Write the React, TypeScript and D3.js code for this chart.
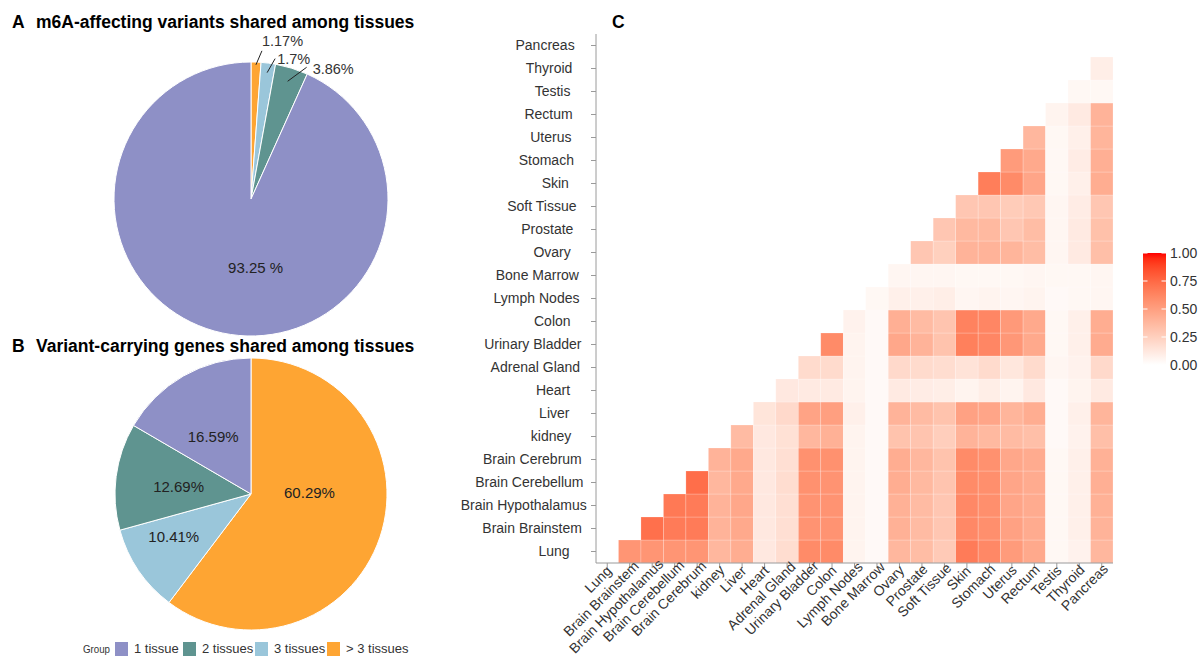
import React, { useMemo } from 'react';
import * as d3 from 'd3';

// ---------- data ----------
const groupNames = ['1 tissue', '2 tissues', '3 tissues', '> 3 tissues'];
const groupColors = ['#8E90C6', '#5F9490', '#9AC6DA', '#FEA533'];

const pieAGroups = ['> 3 tissues', '3 tissues', '2 tissues', '1 tissue'];
const pieAValues = [1.17, 1.7, 3.86, 93.25];
const pieALabels = ['1.17%', '1.7%', '3.86%', '93.25 %'];

const pieBGroups = ['> 3 tissues', '3 tissues', '2 tissues', '1 tissue'];
const pieBValues = [60.29, 10.41, 12.69, 16.59];
const pieBLabels = ['60.29%', '10.41%', '12.69%', '16.59%'];

const tissues = [
  'Lung', 'Brain Brainstem', 'Brain Hypothalamus', 'Brain Cerebellum', 'Brain Cerebrum',
  'kidney', 'Liver', 'Heart', 'Adrenal Gland', 'Urinary Bladder', 'Colon', 'Lymph Nodes',
  'Bone Marrow', 'Ovary', 'Prostate', 'Soft Tissue', 'Skin', 'Stomach', 'Uterus', 'Rectum',
  'Testis', 'Thyroid', 'Pancreas',
];

// similarity[i] holds values for columns j = i+1 .. 22
const similarity = [
  [0.55, 0.55, 0.55, 0.55, 0.38, 0.43, 0.12, 0.18, 0.60, 0.60, 0.06, 0.03, 0.38, 0.35, 0.28, 0.67, 0.61, 0.52, 0.45, 0.04, 0.07, 0.38],
  [0.72, 0.67, 0.67, 0.40, 0.45, 0.12, 0.17, 0.56, 0.56, 0.06, 0.03, 0.41, 0.36, 0.30, 0.61, 0.58, 0.49, 0.44, 0.04, 0.08, 0.40],
  [0.68, 0.67, 0.40, 0.46, 0.12, 0.17, 0.56, 0.56, 0.06, 0.03, 0.41, 0.36, 0.30, 0.61, 0.58, 0.47, 0.44, 0.04, 0.08, 0.41],
  [0.73, 0.38, 0.45, 0.12, 0.18, 0.57, 0.56, 0.06, 0.03, 0.43, 0.37, 0.31, 0.60, 0.58, 0.47, 0.44, 0.04, 0.08, 0.42],
  [0.40, 0.45, 0.12, 0.17, 0.57, 0.57, 0.06, 0.03, 0.43, 0.38, 0.32, 0.60, 0.57, 0.46, 0.44, 0.04, 0.08, 0.41],
  [0.36, 0.12, 0.16, 0.38, 0.41, 0.06, 0.03, 0.32, 0.31, 0.26, 0.40, 0.37, 0.36, 0.34, 0.03, 0.07, 0.34],
  [0.14, 0.20, 0.48, 0.50, 0.08, 0.03, 0.40, 0.36, 0.32, 0.49, 0.47, 0.39, 0.43, 0.03, 0.08, 0.39],
  [0.12, 0.11, 0.11, 0.06, 0.03, 0.11, 0.10, 0.09, 0.06, 0.09, 0.06, 0.12, 0.03, 0.06, 0.11],
  [0.19, 0.19, 0.06, 0.03, 0.20, 0.19, 0.18, 0.15, 0.19, 0.13, 0.19, 0.05, 0.07, 0.20],
  [0.60, 0.06, 0.03, 0.46, 0.40, 0.32, 0.65, 0.62, 0.54, 0.45, 0.04, 0.08, 0.44],
  [0.07, 0.03, 0.42, 0.36, 0.31, 0.64, 0.62, 0.53, 0.45, 0.04, 0.08, 0.43],
  [0.04, 0.08, 0.08, 0.09, 0.05, 0.06, 0.05, 0.06, 0.03, 0.04, 0.05],
  [0.05, 0.05, 0.05, 0.04, 0.04, 0.04, 0.05, 0.04, 0.04, 0.05],
  [0.30, 0.25, 0.40, 0.40, 0.39, 0.35, 0.05, 0.11, 0.34],
  [0.30, 0.37, 0.37, 0.30, 0.35, 0.05, 0.11, 0.33],
  [0.30, 0.30, 0.27, 0.29, 0.05, 0.10, 0.30],
  [0.66, 0.60, 0.47, 0.04, 0.08, 0.43],
  [0.52, 0.45, 0.04, 0.10, 0.42],
  [0.38, 0.04, 0.08, 0.39],
  [0.06, 0.11, 0.40],
  [0.04, 0.04],
  [0.09],
  [],
];

const legendBreaks = [0, 0.25, 0.5, 0.75, 1];
const legendBreakLabels = ['0.00', '0.25', '0.50', '0.75', '1.00'];

// ---------- layout / style ----------
const FONT = "'Liberation Sans', Arial, Helvetica, sans-serif";
const TXT = '#333333';
const AXIS = '#9a9a9a';

// pie label nudges (style only)
const pieANudges = [
  { r: 0.98, lx: 6, ly: -14, tx: 0, ty: -5 },
  { r: 0.93, lx: 8, ly: -14, tx: 2, ty: 5 },
  { r: 0.9, lx: 19, ly: -14, tx: 6, ty: 7 },
  { r: 0.5, lx: 19, ly: 2, tx: 0, ty: 0 },
];
const pieBNudges = [
  { dx: -6, dy: -23 },
  { dx: -21, dy: 5 },
  { dx: -5, dy: 2 },
  { dx: -4, dy: 2 },
];

function colorOf(g: string) {
  return groupColors[groupNames.indexOf(g)];
}

function measure(text: string, font: string) {
  if (typeof document === 'undefined') return text.length * 7;
  const c = document.createElement('canvas').getContext('2d');
  if (!c) return text.length * 7;
  c.font = font;
  return c.measureText(text).width;
}

export default function App() {
  const W = 1204, H = 657;

  // ----- pies -----
  const pieGen = d3.pie<number>().sort(null).value((d) => d);
  const aCx = 251, aCy = 199, aR = 137;
  const bCx = 251, bCy = 494, bR = 136;
  const arcsA = pieGen(pieAValues);
  const arcsB = pieGen(pieBValues);
  const arcA = d3.arc<d3.PieArcDatum<number>>().innerRadius(0).outerRadius(aR);
  const arcB = d3.arc<d3.PieArcDatum<number>>().innerRadius(0).outerRadius(bR);
  const polar = (r: number, a: number) => [r * Math.sin(a), -r * Math.cos(a)];

  // ----- heatmap -----
  const x = d3.scaleBand<string>().domain(tissues).range([596, 1113]).padding(0);
  const y = d3.scaleBand<string>().domain(tissues).range([563, 34]).padding(0);
  const color = d3.scaleLinear<string>().domain([0, 1]).range(['#ffffff', '#ff0000']).interpolate(d3.interpolateLab);

  const cells: { i: number; j: number; v: number }[] = [];
  similarity.forEach((row, i) => row.forEach((v, k) => cells.push({ i, j: i + 1 + k, v })));

  const labelFont = `14px ${FONT}`;
  const widths = useMemo(() => tissues.map((t) => measure(t, labelFont)), []);

  // colorbar
  const cb = d3.scaleLinear().domain([0, 1]).range([365, 253]);
  const cbX = 1143, cbW = 23;
  const stops = d3.range(0, 1.0001, 0.05);

  return (
    <svg width={W} height={H} style={{ position: 'absolute', left: 0, top: 0, background: '#fff' }} fontFamily={FONT}>
      <defs>
        <linearGradient id="cbgrad" x1="0" y1="1" x2="0" y2="0">
          {stops.map((s) => (
            <stop key={s} offset={s} stopColor={color(s)} />
          ))}
        </linearGradient>
      </defs>

      {/* Panel A */}
      <text x={12} y={28} fontSize={17.5} fontWeight="bold" fill="#000">A</text>
      <text x={36} y={28} fontSize={17.5} fontWeight="bold" fill="#000">m6A-affecting variants shared among tissues</text>
      <g transform={`translate(${aCx},${aCy})`}>
        {arcsA.map((a, k) => (
          <path key={k} d={arcA(a) || ''} fill={colorOf(pieAGroups[k])} stroke="#ffffff" strokeWidth={1} />
        ))}
        {arcsA.map((a, k) => {
          const mid = (a.startAngle + a.endAngle) / 2;
          const n = pieANudges[k];
          if (k < 3) {
            const [sx, sy] = polar(aR * n.r, mid);
            const ex = sx + n.lx, ey = sy + n.ly;
            return (
              <g key={'l' + k}>
                <line x1={sx} y1={sy} x2={ex} y2={ey} stroke="#222" strokeWidth={1} />
                <text x={ex + n.tx} y={ey + n.ty} fontSize={14.5} fill={TXT}>{pieALabels[k]}</text>
              </g>
            );
          }
          const [cx, cy] = polar(aR * n.r, mid);
          return (
            <text key={'l' + k} x={cx + n.lx} y={cy + n.ly} dy="0.35em" textAnchor="middle" fontSize={15} fill="#222">
              {pieALabels[k]}
            </text>
          );
        })}
      </g>

      {/* Panel B */}
      <text x={12} y={352} fontSize={17.5} fontWeight="bold" fill="#000">B</text>
      <text x={36} y={352} fontSize={17.5} fontWeight="bold" fill="#000">Variant-carrying genes shared among tissues</text>
      <g transform={`translate(${bCx},${bCy})`}>
        {arcsB.map((a, k) => (
          <path key={k} d={arcB(a) || ''} fill={colorOf(pieBGroups[k])} stroke="#ffffff" strokeWidth={1} />
        ))}
        {arcsB.map((a, k) => {
          const mid = (a.startAngle + a.endAngle) / 2;
          const [cx, cy] = polar(bR * 0.5, mid);
          const n = pieBNudges[k];
          return (
            <text key={'t' + k} x={cx + n.dx} y={cy + n.dy} dy="0.35em" textAnchor="middle" fontSize={15} fill="#222">
              {pieBLabels[k]}
            </text>
          );
        })}
      </g>

      {/* Group legend */}
      <g>
        <text x={83} y={653} fontSize={11.5} fill={TXT} textLength={27} lengthAdjust="spacingAndGlyphs">Group</text>
        {groupNames.map((g, k) => {
          const xs = [115, 183, 255, 327][k];
          return (
            <g key={g}>
              <rect x={xs} y={642} width={13} height={14} fill={groupColors[k]} />
              <text x={xs + 19} y={653} fontSize={13} fill={TXT}>{g}</text>
            </g>
          );
        })}
      </g>

      {/* Panel C */}
      <text x={612} y={28} fontSize={17.5} fontWeight="bold" fill="#000">C</text>

      {cells.map((c) => (
        <rect
          key={c.i + '-' + c.j}
          x={x(tissues[c.j])}
          y={y(tissues[c.i])}
          width={x.bandwidth()}
          height={y.bandwidth()}
          fill={color(c.v)}
          stroke="#ffffff"
          strokeOpacity={0.35}
          strokeWidth={0.6}
        />
      ))}

      {/* y axis */}
      <line x1={596} y1={34} x2={596} y2={563} stroke={AXIS} strokeWidth={1} />
      {tissues.map((t, k) => {
        const cy = (y(t) as number) + y.bandwidth() / 2;
        return (
          <g key={'ya' + t}>
            <line x1={591} y1={cy} x2={596} y2={cy} stroke={AXIS} strokeWidth={1} />
            <text x={564 + 0.18 * widths[k]} y={cy} dy="0.35em" textAnchor="end" fontSize={14} fill={TXT}>{t}</text>
          </g>
        );
      })}

      {/* x axis */}
      <line x1={596} y1={563} x2={1113} y2={563} stroke={AXIS} strokeWidth={1} />
      {tissues.map((t, k) => {
        const cx = (x(t) as number) + x.bandwidth() / 2;
        return (
          <g key={'xa' + t}>
            <line x1={cx} y1={563} x2={cx} y2={568} stroke={AXIS} strokeWidth={1} />
            <text
              transform={`translate(${cx + 3},${574}) rotate(-45)`}
              x={0.1 * widths[k]}
              textAnchor="end"
              fontSize={14}
              fill={TXT}
            >
              {t}
            </text>
          </g>
        );
      })}

      {/* colorbar */}
      <rect x={cbX} y={cb(1)} width={cbW} height={cb(0) - cb(1)} fill="url(#cbgrad)" />
      {legendBreaks.map((b, k) => (
        <g key={'cb' + b}>
          <line x1={cbX} x2={cbX + 4.5} y1={cb(b)} y2={cb(b)} stroke="#fff" strokeWidth={1} />
          <line x1={cbX + cbW - 4.5} x2={cbX + cbW} y1={cb(b)} y2={cb(b)} stroke="#fff" strokeWidth={1} />
          <text x={1170} y={cb(b)} dy="0.35em" fontSize={14} fill={TXT}>{legendBreakLabels[k]}</text>
        </g>
      ))}
    </svg>
  );
}
